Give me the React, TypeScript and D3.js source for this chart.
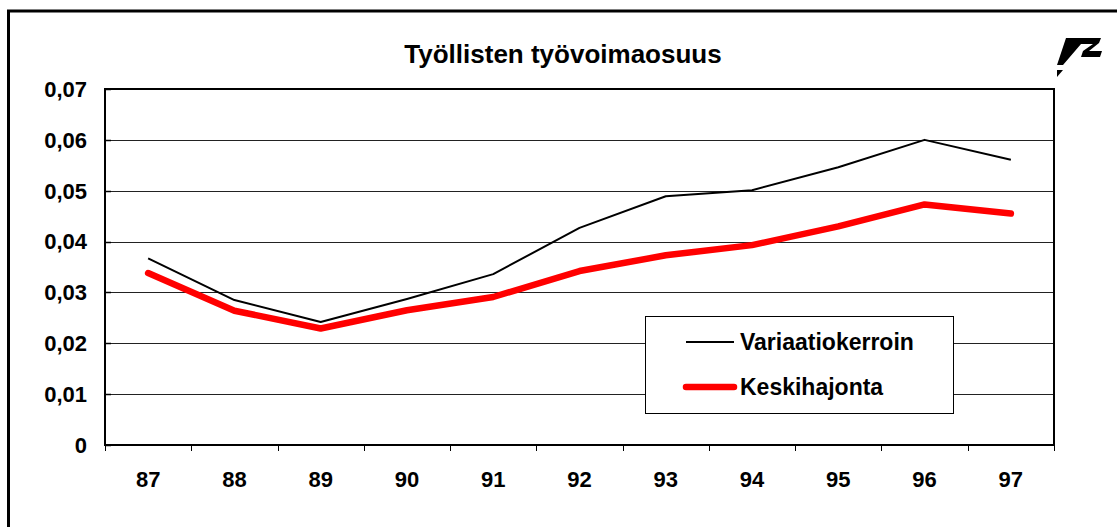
import React, { useRef, useEffect } from "react";
import * as d3 from "d3";

const years = ["87", "88", "89", "90", "91", "92", "93", "94", "95", "96", "97"];
const variaatiokerroin = [0.0367, 0.0285, 0.0242, 0.0287, 0.0336, 0.0427, 0.0489, 0.0501, 0.0546, 0.0600, 0.0561];
const keskihajonta = [0.0338, 0.0264, 0.0229, 0.0265, 0.0291, 0.0342, 0.0373, 0.0393, 0.0430, 0.0473, 0.0455];
const yTicks = [0, 0.01, 0.02, 0.03, 0.04, 0.05, 0.06, 0.07];
const seriesNames = ["Variaatiokerroin", "Keskihajonta"];
const title = "Työllisten työvoimaosuus";

const App = () => {
    const ref = useRef<SVGSVGElement>(null);

    useEffect(() => {
        const width = 1117;
        const height = 527;
        const margin = { top: 89, right: 63, bottom: 82, left: 105 };
        const font = "'Liberation Sans', Arial, sans-serif";

        const svg = d3.select(ref.current)
            .attr("width", width)
            .attr("height", height);
        svg.selectAll("*").remove();

        // outer frame (only left and top visible)
        svg.append("path")
            .attr("d", `M8.5,${height} L8.5,11 L${width},11`)
            .attr("fill", "none")
            .attr("stroke", "#000")
            .attr("stroke-width", 3);

        const xScale = d3.scaleBand()
            .domain(years)
            .range([margin.left, width - margin.right]);

        const yScale = d3.scaleLinear()
            .domain([0, 0.07])
            .range([height - margin.bottom, margin.top]);

        const x0 = margin.left;
        const x1 = width - margin.right;
        const yBottom = yScale(0);
        const yTop = yScale(0.07);

        // gridlines
        svg.append("g")
            .selectAll("line")
            .data(yTicks.slice(1, -1))
            .join("line")
            .attr("x1", x0)
            .attr("x2", x1)
            .attr("y1", d => Math.round(yScale(d)) + 0.5)
            .attr("y2", d => Math.round(yScale(d)) + 0.5)
            .attr("stroke", "#222")
            .attr("stroke-width", 1);

        // small ticks on y axis (inward)
        svg.append("g")
            .selectAll("line")
            .data(yTicks)
            .join("line")
            .attr("x1", x0)
            .attr("x2", x0 + 6)
            .attr("y1", d => Math.round(yScale(d)) + 0.5)
            .attr("y2", d => Math.round(yScale(d)) + 0.5)
            .attr("stroke", "#000")
            .attr("stroke-width", 1.5);

        // plot area border
        svg.append("rect")
            .attr("x", x0)
            .attr("y", yTop)
            .attr("width", x1 - x0)
            .attr("height", yBottom - yTop)
            .attr("fill", "none")
            .attr("stroke", "#000")
            .attr("stroke-width", 2);

        // x ticks at band boundaries
        const boundaries = years.map(d => xScale(d) as number).concat([x1]);
        svg.append("g")
            .selectAll("line")
            .data(boundaries)
            .join("line")
            .attr("x1", d => Math.round(d) + 0.5)
            .attr("x2", d => Math.round(d) + 0.5)
            .attr("y1", yBottom)
            .attr("y2", yBottom + 6)
            .attr("stroke", "#000")
            .attr("stroke-width", 1);

        // y labels
        svg.append("g")
            .selectAll("text")
            .data(yTicks)
            .join("text")
            .attr("x", 87)
            .attr("y", d => yScale(d))
            .attr("dy", "0.36em")
            .attr("text-anchor", "end")
            .style("font-family", font)
            .style("font-weight", "bold")
            .style("font-size", "22px")
            .text(d => d === 0 ? "0" : d3.format(".2f")(d).replace(".", ","));

        // x labels
        svg.append("g")
            .selectAll("text")
            .data(years)
            .join("text")
            .attr("x", d => (xScale(d) as number) + xScale.bandwidth() / 2)
            .attr("y", 487)
            .attr("text-anchor", "middle")
            .style("font-family", font)
            .style("font-weight", "bold")
            .style("font-size", "22px")
            .text(d => d);

        // title
        svg.append("text")
            .attr("x", 563)
            .attr("y", 63)
            .attr("text-anchor", "middle")
            .style("font-family", font)
            .style("font-weight", "bold")
            .style("font-size", "26px")
            .text(title);

        const cx = (d: string) => (xScale(d) as number) + xScale.bandwidth() / 2;

        const line = d3.line<number>()
            .x((d, i) => cx(years[i]))
            .y(d => yScale(d));

        svg.append("path")
            .datum(variaatiokerroin)
            .attr("fill", "none")
            .attr("stroke", "#000")
            .attr("stroke-width", 2)
            .attr("stroke-linejoin", "round")
            .attr("d", line);

        svg.append("path")
            .datum(keskihajonta)
            .attr("fill", "none")
            .attr("stroke", "#ff0000")
            .attr("stroke-width", 6.5)
            .attr("stroke-linejoin", "round")
            .attr("stroke-linecap", "round")
            .attr("d", line);

        // legend
        const legend = svg.append("g");
        legend.append("rect")
            .attr("x", 645.5)
            .attr("y", 316.5)
            .attr("width", 308)
            .attr("height", 97)
            .attr("fill", "#fff")
            .attr("stroke", "#000")
            .attr("stroke-width", 1);

        const legendItems = [
            { name: seriesNames[0], color: "#000", w: 2, y: 342 },
            { name: seriesNames[1], color: "#ff0000", w: 6.5, y: 387 },
        ];
        legendItems.forEach(it => {
            legend.append("line")
                .attr("x1", 686)
                .attr("x2", 734)
                .attr("y1", it.y)
                .attr("y2", it.y)
                .attr("stroke", it.color)
                .attr("stroke-width", it.w)
                .attr("stroke-linecap", it.w > 3 ? "round" : "butt");
            legend.append("text")
                .attr("x", 740)
                .attr("y", it.y + 8)
                .style("font-family", font)
                .style("font-weight", "bold")
                .style("font-size", "23px")
                .text(it.name);
        });

        // logo in top right corner
        const logo = svg.append("g").attr("fill", "#000");
        logo.append("path")
            .attr("d", "M1066,38 L1101,38 L1099,43 L1089,51 L1102,51 L1100,57 L1081,57 L1083,51 L1093,44 L1081,44 L1063,65 L1057,65 Z");
        logo.append("path")
            .attr("d", "M1057,70 L1063,70 L1057,77 Z");

    }, []);

    return (
        <div style={{ position: "absolute", left: 0, top: 0 }}>
            <svg ref={ref}></svg>
        </div>
    );
};

export default App;
